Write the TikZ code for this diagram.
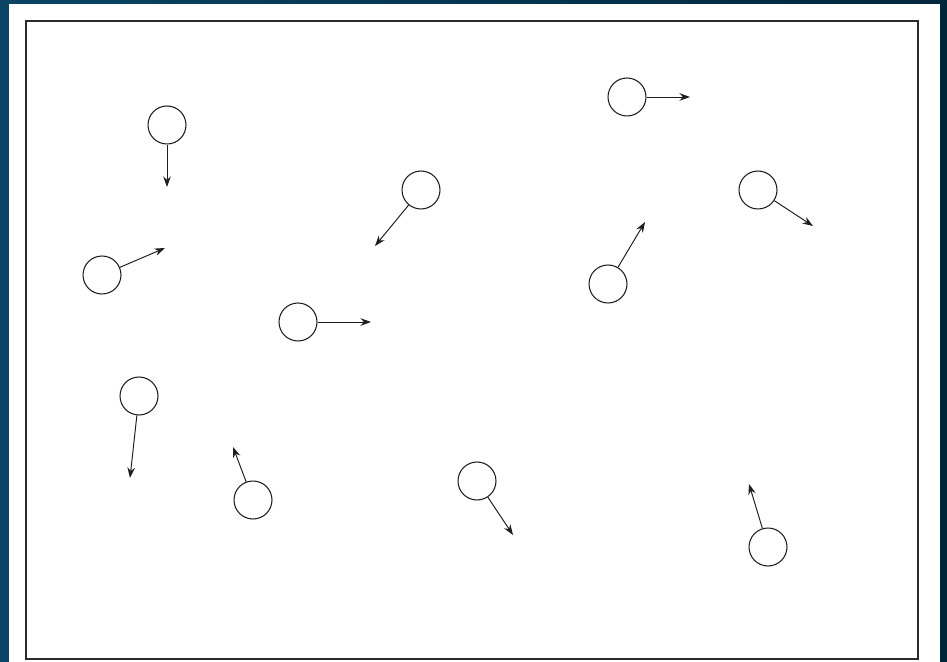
\documentclass[tikz,border=0pt]{standalone}
\usetikzlibrary{arrows.meta}
\definecolor{slidedark}{HTML}{00263C}
\definecolor{slideblue}{HTML}{0A4565}
\definecolor{panelwhite}{HTML}{FFFFFF}
\definecolor{framegray}{HTML}{2A2A2A}
\definecolor{particlegray}{HTML}{1E1E1E}
\tikzset{
  >={Stealth[length=2.1mm,width=1.5mm]},
  particle/.style={circle,draw=particlegray,line width=.6pt,minimum size=.76cm,inner sep=0pt},
  velocity/.style={->,draw=particlegray,line width=.55pt},
  frame/.style={draw=framegray,line width=1.1pt}
}
\begin{document}
\begin{tikzpicture}[x=.02cm,y=-.02cm]
  \useasboundingbox (0,0) rectangle (947,662);
  % Slide background and white panel.
  \shade[left color=slideblue,right color=slidedark] (0,0) rectangle (947,662);
  \fill[panelwhite] (9,4) rectangle (940,662);
  \draw[frame] (26,21) rectangle (918,659);

  % Particles.
  \node[particle] (p1) at (167,125) {};
  \node[particle] (p2) at (102,275) {};
  \node[particle] (p3) at (421,190) {};
  \node[particle] (p4) at (627,97) {};
  \node[particle] (p5) at (758,190) {};
  \node[particle] (p6) at (608,284) {};
  \node[particle] (p7) at (298,322) {};
  \node[particle] (p8) at (139,396) {};
  \node[particle] (p9) at (253,500) {};
  \node[particle] (p10) at (477,481) {};
  \node[particle] (p11) at (768,547) {};

  % Tips of the velocity vectors.
  \coordinate (v1) at (167,187);
  \coordinate (v2) at (165,248);
  \coordinate (v3) at (375,246);
  \coordinate (v4) at (690,97);
  \coordinate (v5) at (813,226);
  \coordinate (v6) at (645,222);
  \coordinate (v7) at (371,322);
  \coordinate (v8) at (130,478);
  \coordinate (v9) at (233,447);
  \coordinate (v10) at (513,535);
  \coordinate (v11) at (749,484);

  % Each particle carries its velocity.
  \draw[velocity] (p1) -- (v1);
  \draw[velocity] (p2) -- (v2);
  \draw[velocity] (p3) -- (v3);
  \draw[velocity] (p4) -- (v4);
  \draw[velocity] (p5) -- (v5);
  \draw[velocity] (p6) -- (v6);
  \draw[velocity] (p7) -- (v7);
  \draw[velocity] (p8) -- (v8);
  \draw[velocity] (p9) -- (v9);
  \draw[velocity] (p10) -- (v10);
  \draw[velocity] (p11) -- (v11);
\end{tikzpicture}
\end{document}
